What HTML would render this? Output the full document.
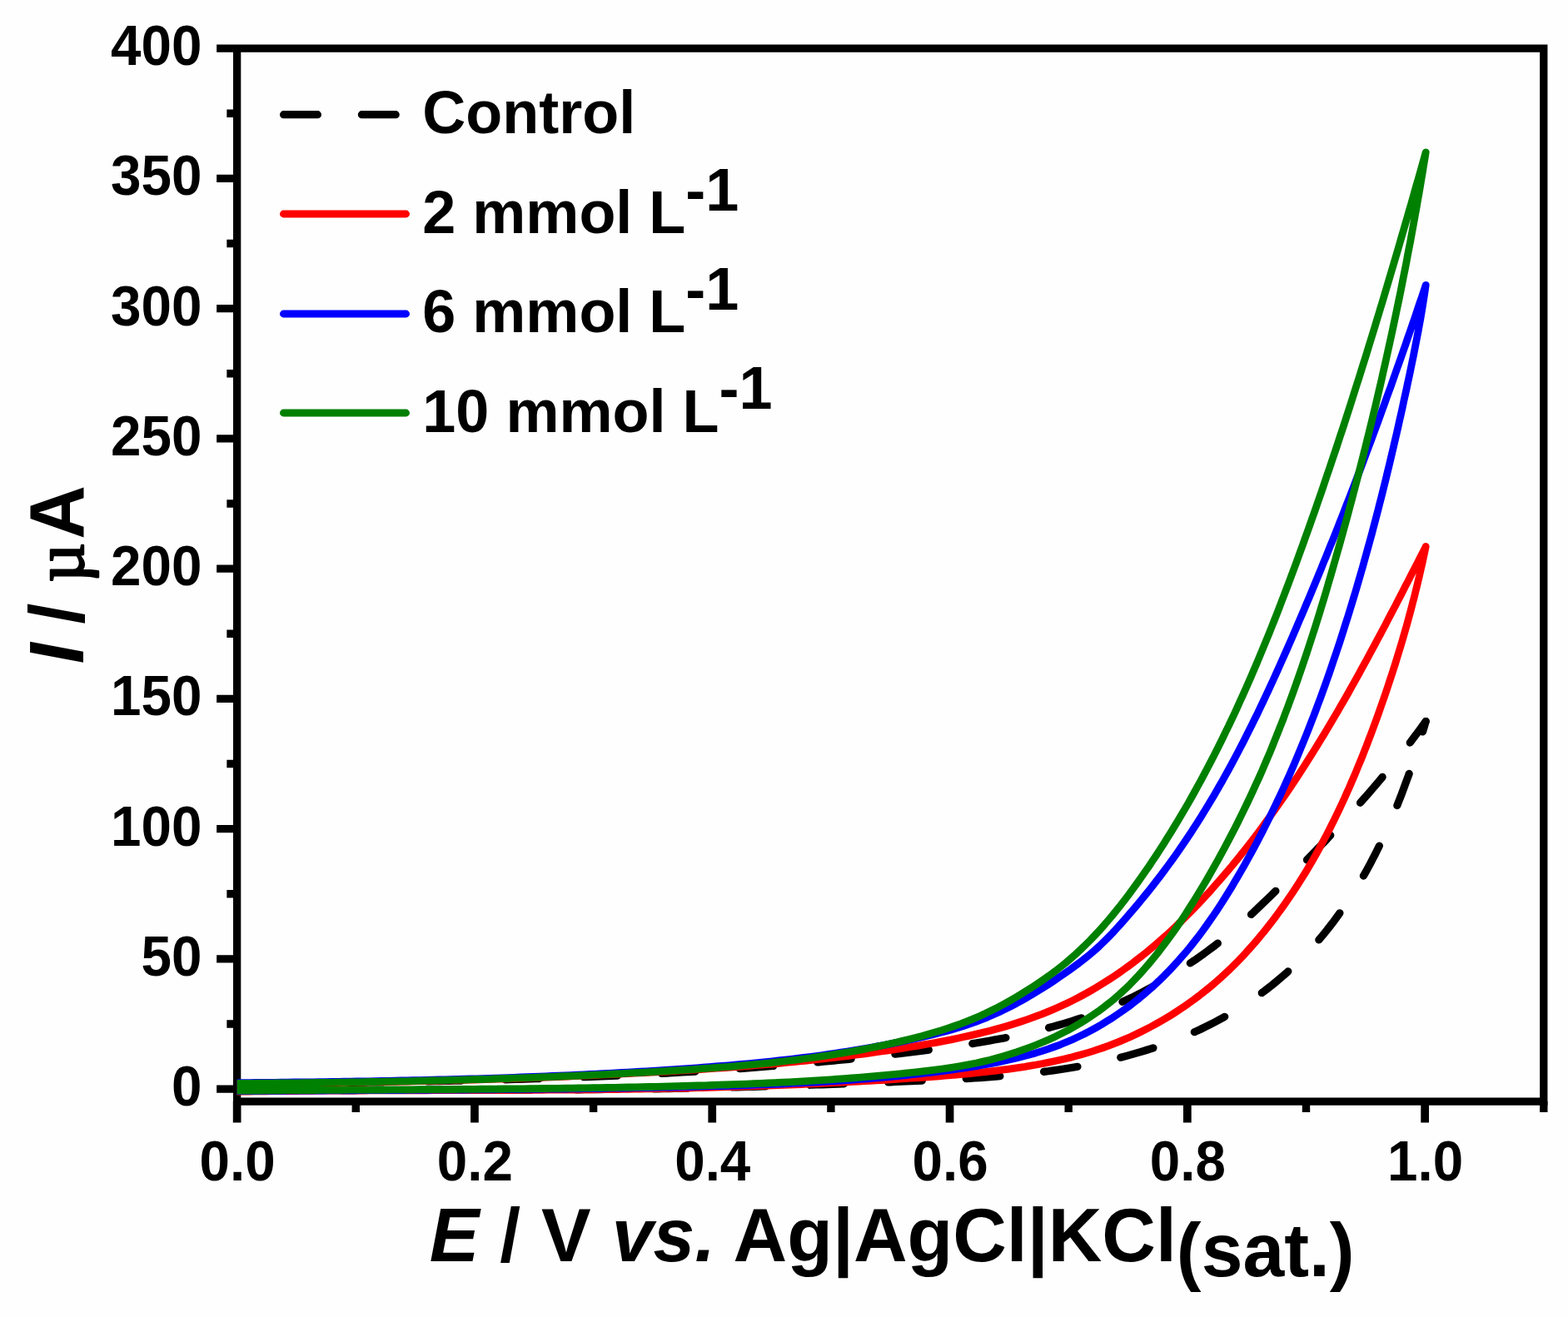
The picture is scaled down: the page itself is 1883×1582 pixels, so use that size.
<!DOCTYPE html>
<html lang="en"><head><meta charset="utf-8">
<title>Cyclic voltammograms</title>
<style>
html,body{margin:0;padding:0;background:#fefefe;}
body{width:1883px;height:1582px;overflow:hidden;}
svg{display:block;filter:blur(0.65px);}
text{font-family:"Liberation Sans",sans-serif;font-weight:bold;fill:#000;white-space:pre;}
.tk{font-size:65.6px;}
.lg{font-size:72.0px;}
.ti{font-size:89.5px;}
.it{font-style:italic;}
.mu{font-family:"Liberation Serif","DejaVu Serif",serif;font-weight:normal;stroke:#000;stroke-width:2.4px;stroke-linejoin:round;}
.ax{stroke:#000;stroke-width:9.3;fill:none;}
.cv{fill:none;stroke-linejoin:round;stroke-linecap:round;}
</style></head><body>
<svg width="1883" height="1582" viewBox="0 0 1883 1582" role="img" aria-label="Cyclic voltammograms">
<rect x="0" y="0" width="1883" height="1582" fill="#fefefe"/>
<path class="ax" d="M284.65,58.10 H1853.80 V1323.10 H284.65 Z M260.15,1308.10 H284.65 M260.15,1151.85 H284.65 M260.15,995.60 H284.65 M260.15,839.35 H284.65 M260.15,683.10 H284.65 M260.15,526.85 H284.65 M260.15,370.60 H284.65 M260.15,214.35 H284.65 M260.15,58.10 H284.65"/>
<path class="ax" style="stroke-width:9.5" d="M272.35,1229.97 H284.65 M272.35,1073.72 H284.65 M272.35,917.47 H284.65 M272.35,761.22 H284.65 M272.35,604.97 H284.65 M272.35,448.72 H284.65 M272.35,292.47 H284.65 M272.35,136.22 H284.65"/>
<path class="ax" style="stroke-width:9.7" d="M284.65,1323.10 V1348.50 M569.95,1323.10 V1348.50 M855.25,1323.10 V1348.50 M1140.55,1323.10 V1348.50 M1425.85,1323.10 V1348.50 M1711.15,1323.10 V1348.50"/>
<path class="ax" style="stroke-width:9.4" d="M427.30,1323.10 V1336.10 M712.60,1323.10 V1336.10 M997.90,1323.10 V1336.10 M1283.20,1323.10 V1336.10 M1568.50,1323.10 V1336.10 M1853.80,1323.10 V1336.10"/>
<clipPath id="pa"><rect x="284.65" y="58.1" width="1569.15" height="1265.0"/></clipPath>
<g class="cv" clip-path="url(#pa)">
<path d="M284.6,1302.0 L290.7,1301.9 L296.8,1301.9 L302.9,1301.8 L309.0,1301.7 L315.0,1301.6 L321.1,1301.6 L327.2,1301.5 L333.3,1301.4 L339.3,1301.4 L345.4,1301.3 L351.5,1301.2 L357.6,1301.2 L363.6,1301.1 L369.7,1301.0 L375.8,1300.9 L381.9,1300.9 L387.9,1300.8 L394.0,1300.7 L400.1,1300.6 L406.2,1300.5 L412.2,1300.5 L418.3,1300.4 L424.4,1300.3 L430.5,1300.2 L436.6,1300.1 L442.6,1300.0 L448.7,1300.0 L454.8,1299.9 L460.9,1299.8 L466.9,1299.7 L473.0,1299.6 L479.1,1299.5 L485.2,1299.4 L491.2,1299.3 L497.3,1299.2 L503.4,1299.1 L509.5,1299.0 L515.5,1298.8 L521.6,1298.7 L527.7,1298.6 L533.8,1298.5 L539.9,1298.4 L545.9,1298.2 L552.0,1298.1 L558.1,1298.0 L564.2,1297.8 L570.2,1297.7 L576.3,1297.5 L582.4,1297.4 L588.5,1297.2 L594.5,1297.1 L600.6,1296.9 L606.7,1296.8 L612.7,1296.6 L618.8,1296.4 L624.9,1296.3 L631.0,1296.1 L637.0,1295.9 L643.1,1295.7 L649.2,1295.5 L655.3,1295.3 L661.3,1295.1 L667.4,1294.9 L673.5,1294.7 L679.6,1294.5 L685.6,1294.3 L691.7,1294.0 L697.8,1293.8 L703.8,1293.6 L709.9,1293.3 L716.0,1293.1 L722.1,1292.8 L728.1,1292.6 L734.2,1292.3 L740.3,1292.1 L746.3,1291.8 L752.4,1291.5 L758.5,1291.2 L764.5,1290.9 L770.6,1290.6 L776.7,1290.3 L782.7,1290.0 L788.8,1289.7 L794.9,1289.4 L800.9,1289.1 L807.0,1288.7 L813.1,1288.4 L819.1,1288.0 L825.2,1287.7 L831.3,1287.3 L837.3,1286.9 L843.4,1286.6 L849.5,1286.2 L855.5,1285.8 L861.6,1285.4 L867.6,1285.0 L873.7,1284.6 L879.8,1284.2 L885.8,1283.7 L891.9,1283.3 L898.0,1282.9 L904.0,1282.4 L910.1,1282.0 L916.1,1281.5 L922.2,1281.0 L928.2,1280.5 L934.3,1280.0 L940.4,1279.5 L946.4,1279.0 L952.5,1278.5 L958.5,1278.0 L964.6,1277.5 L970.6,1276.9 L976.7,1276.4 L982.8,1275.8 L988.8,1275.2 L994.9,1274.7 L1000.9,1274.1 L1007.0,1273.5 L1013.0,1272.9 L1019.1,1272.3 L1025.1,1271.6 L1031.2,1271.0 L1037.2,1270.4 L1043.3,1269.7 L1049.3,1269.0 L1055.4,1268.4 L1061.4,1267.7 L1067.5,1267.0 L1073.5,1266.3 L1079.5,1265.6 L1085.6,1264.9 L1091.6,1264.1 L1097.7,1263.4 L1103.7,1262.6 L1109.8,1261.9 L1115.8,1261.1 L1121.8,1260.3 L1127.9,1259.5 L1133.9,1258.7 L1139.9,1257.8 L1146.0,1256.9 L1152.0,1256.1 L1158.0,1255.1 L1164.0,1254.2 L1170.0,1253.3 L1176.0,1252.3 L1182.0,1251.2 L1188.0,1250.2 L1193.9,1249.1 L1199.9,1248.0 L1205.9,1246.9 L1211.8,1245.7 L1217.7,1244.5 L1223.7,1243.2 L1229.6,1241.9 L1235.5,1240.5 L1241.3,1239.2 L1247.2,1237.7 L1253.1,1236.2 L1258.9,1234.7 L1264.7,1233.1 L1270.6,1231.5 L1276.4,1229.8 L1282.1,1228.1 L1287.9,1226.3 L1293.6,1224.4 L1299.4,1222.5 L1305.1,1220.6 L1310.8,1218.5 L1316.4,1216.4 L1322.1,1214.3 L1327.7,1212.1 L1333.3,1209.8 L1338.9,1207.4 L1344.4,1205.0 L1350.0,1202.5 L1355.5,1199.9 L1361.0,1197.3 L1366.4,1194.6 L1371.9,1191.8 L1377.3,1188.9 L1382.7,1185.9 L1388.0,1182.9 L1393.4,1179.8 L1398.7,1176.6 L1403.9,1173.4 L1409.1,1170.2 L1414.3,1166.9 L1419.5,1163.5 L1424.6,1160.2 L1429.6,1156.8 L1434.7,1153.4 L1439.6,1149.9 L1444.6,1146.4 L1449.4,1142.9 L1454.3,1139.3 L1459.1,1135.7 L1463.8,1132.0 L1468.5,1128.2 L1473.2,1124.4 L1477.8,1120.5 L1482.4,1116.6 L1487.0,1112.6 L1491.5,1108.6 L1496.0,1104.5 L1500.4,1100.4 L1504.9,1096.3 L1509.3,1092.1 L1513.7,1087.9 L1518.1,1083.7 L1522.5,1079.5 L1526.9,1075.2 L1531.2,1071.0 L1535.5,1066.7 L1539.9,1062.5 L1544.2,1058.2 L1548.5,1053.9 L1552.8,1049.6 L1557.1,1045.3 L1561.4,1041.0 L1565.7,1036.7 L1569.9,1032.4 L1574.2,1028.0 L1578.4,1023.7 L1582.6,1019.3 L1586.9,1014.9 L1591.1,1010.5 L1595.2,1006.1 L1599.4,1001.7 L1603.6,997.3 L1607.7,992.9 L1611.8,988.4 L1615.9,983.9 L1620.0,979.4 L1624.1,974.9 L1628.1,970.4 L1632.2,965.9 L1636.2,961.3 L1640.2,956.8 L1644.2,952.2 L1648.1,947.6 L1652.1,943.0 L1656.0,938.4 L1659.9,933.7 L1663.8,929.0 L1667.7,924.4 L1671.5,919.6 L1675.3,914.9 L1679.1,910.2 L1682.9,905.4 L1686.6,900.6 L1690.4,895.8 L1694.1,891.0 L1697.7,886.1 L1701.4,881.3 L1705.0,876.4 L1708.6,871.4 L1712.2,866.5" stroke="#000" stroke-width="9.2" stroke-dasharray="40.8 53.0" stroke-dashoffset="52.75"/>
<path d="M1712.2,866.5 L1710.5,872.5 L1708.7,878.4 L1706.9,884.4 L1705.0,890.4 L1703.2,896.4 L1701.3,902.3 L1699.3,908.3 L1697.3,914.3 L1695.3,920.3 L1693.3,926.3 L1691.2,932.3 L1689.0,938.2 L1686.8,944.2 L1684.6,950.1 L1682.4,956.1 L1680.0,962.0 L1677.7,967.9 L1675.3,973.8 L1672.8,979.7 L1670.3,985.6 L1667.8,991.4 L1665.2,997.3 L1662.6,1003.1 L1659.9,1008.8 L1657.1,1014.6 L1654.3,1020.3 L1651.5,1026.0 L1648.5,1031.7 L1645.6,1037.3 L1642.6,1042.9 L1639.5,1048.5 L1636.3,1054.0 L1633.1,1059.5 L1629.9,1064.9 L1626.6,1070.3 L1623.2,1075.7 L1619.7,1081.0 L1616.2,1086.3 L1612.6,1091.5 L1609.0,1096.7 L1605.3,1101.8 L1601.5,1106.9 L1597.7,1111.9 L1593.8,1116.9 L1589.8,1121.8 L1585.8,1126.6 L1581.7,1131.4 L1577.5,1136.1 L1573.3,1140.8 L1568.9,1145.4 L1564.6,1149.9 L1560.1,1154.4 L1555.6,1158.8 L1551.0,1163.1 L1546.4,1167.3 L1541.7,1171.5 L1536.9,1175.6 L1532.1,1179.6 L1527.2,1183.6 L1522.2,1187.5 L1517.2,1191.3 L1512.1,1195.0 L1507.0,1198.6 L1501.8,1202.2 L1496.6,1205.7 L1491.3,1209.1 L1485.9,1212.5 L1480.5,1215.7 L1475.1,1218.9 L1469.6,1222.0 L1464.0,1225.1 L1458.5,1228.0 L1452.8,1230.9 L1447.2,1233.7 L1441.5,1236.5 L1435.7,1239.1 L1429.9,1241.7 L1424.1,1244.2 L1418.3,1246.6 L1412.4,1249.0 L1406.5,1251.2 L1400.5,1253.4 L1394.6,1255.6 L1388.6,1257.6 L1382.5,1259.6 L1376.5,1261.5 L1370.4,1263.4 L1364.3,1265.2 L1358.2,1266.9 L1352.1,1268.6 L1345.9,1270.2 L1339.8,1271.7 L1333.6,1273.2 L1327.4,1274.6 L1321.1,1276.0 L1314.9,1277.3 L1308.7,1278.5 L1302.4,1279.7 L1296.2,1280.9 L1289.9,1282.0 L1283.7,1283.0 L1277.4,1284.0 L1271.1,1285.0 L1264.8,1285.9 L1258.6,1286.7 L1252.3,1287.5 L1246.0,1288.3 L1239.7,1289.0 L1233.4,1289.7 L1227.1,1290.4 L1220.8,1291.0 L1214.5,1291.6 L1208.2,1292.2 L1201.9,1292.7 L1195.6,1293.2 L1189.3,1293.7 L1183.0,1294.1 L1176.7,1294.6 L1170.4,1295.0 L1164.1,1295.4 L1157.8,1295.7 L1151.4,1296.1 L1145.1,1296.4 L1138.8,1296.7 L1132.5,1297.0 L1126.2,1297.3 L1119.9,1297.6 L1113.5,1297.9 L1107.2,1298.2 L1100.9,1298.4 L1094.6,1298.7 L1088.3,1299.0 L1081.9,1299.2 L1075.6,1299.5 L1069.3,1299.8 L1063.0,1300.0 L1056.6,1300.3 L1050.3,1300.5 L1044.0,1300.8 L1037.7,1301.0 L1031.4,1301.2 L1025.0,1301.5 L1018.7,1301.7 L1012.4,1301.9 L1006.1,1302.2 L999.7,1302.4 L993.4,1302.6 L987.1,1302.8 L980.8,1303.0 L974.4,1303.2 L968.1,1303.5 L961.8,1303.7 L955.5,1303.9 L949.1,1304.1 L942.8,1304.3 L936.5,1304.4 L930.2,1304.6 L923.8,1304.8 L917.5,1305.0 L911.2,1305.2 L904.9,1305.3 L898.5,1305.5 L892.2,1305.7 L885.9,1305.8 L879.5,1306.0 L873.2,1306.1 L866.9,1306.3 L860.6,1306.4 L854.2,1306.6 L847.9,1306.7 L841.6,1306.9 L835.3,1307.0 L828.9,1307.1 L822.6,1307.2 L816.3,1307.3 L809.9,1307.5 L803.6,1307.6 L797.3,1307.7 L791.0,1307.8 L784.6,1307.9 L778.3,1307.9 L772.0,1308.0 L765.6,1308.1 L759.3,1308.2 L753.0,1308.3 L746.7,1308.3 L740.3,1308.4 L734.0,1308.5 L727.7,1308.5 L721.3,1308.6 L715.0,1308.6 L708.7,1308.7 L702.4,1308.7 L696.0,1308.8 L689.7,1308.8 L683.4,1308.9 L677.0,1308.9 L670.7,1308.9 L664.4,1309.0 L658.1,1309.0 L651.7,1309.0 L645.4,1309.0 L639.1,1309.1 L632.7,1309.1 L626.4,1309.1 L620.1,1309.1 L613.8,1309.2 L607.4,1309.2 L601.1,1309.2 L594.8,1309.2 L588.4,1309.2 L582.1,1309.2 L575.8,1309.2 L569.4,1309.3 L563.1,1309.3 L556.8,1309.3 L550.5,1309.3 L544.1,1309.3 L537.8,1309.3 L531.5,1309.3 L525.1,1309.3 L518.8,1309.3 L512.5,1309.3 L506.2,1309.4 L499.8,1309.4 L493.5,1309.4 L487.2,1309.4 L480.8,1309.4 L474.5,1309.4 L468.2,1309.4 L461.9,1309.4 L455.5,1309.5 L449.2,1309.5 L442.9,1309.5 L436.5,1309.5 L430.2,1309.5 L423.9,1309.6 L417.5,1309.6 L411.2,1309.6 L404.9,1309.7 L398.6,1309.7 L392.2,1309.7 L385.9,1309.8 L379.6,1309.8 L373.2,1309.9 L366.9,1309.9 L360.6,1310.0 L354.3,1310.0 L347.9,1310.1 L341.6,1310.1 L335.3,1310.2 L328.9,1310.2 L322.6,1310.3 L316.3,1310.4 L310.0,1310.5 L303.6,1310.5 L297.3,1310.6 L291.0,1310.7 L284.6,1310.8" stroke="#000" stroke-width="9.2" stroke-dasharray="40.8 53.0" stroke-dashoffset="27.8"/>
<path d="M284.6,1301.6 L291.3,1301.6 L297.9,1301.5 L304.5,1301.5 L311.1,1301.4 L317.8,1301.4 L324.4,1301.3 L331.0,1301.3 L337.6,1301.2 L344.3,1301.2 L350.9,1301.1 L357.5,1301.0 L364.1,1301.0 L370.8,1300.9 L377.4,1300.8 L384.0,1300.8 L390.6,1300.7 L397.3,1300.6 L403.9,1300.5 L410.5,1300.4 L417.1,1300.3 L423.7,1300.2 L430.4,1300.1 L437.0,1300.0 L443.6,1299.9 L450.2,1299.8 L456.9,1299.7 L463.5,1299.5 L470.1,1299.4 L476.7,1299.3 L483.4,1299.1 L490.0,1299.0 L496.6,1298.9 L503.2,1298.7 L509.9,1298.6 L516.5,1298.4 L523.1,1298.3 L529.7,1298.1 L536.3,1297.9 L543.0,1297.8 L549.6,1297.6 L556.2,1297.4 L562.8,1297.2 L569.5,1297.0 L576.1,1296.8 L582.7,1296.6 L589.3,1296.4 L595.9,1296.2 L602.6,1296.0 L609.2,1295.8 L615.8,1295.5 L622.4,1295.3 L629.0,1295.1 L635.7,1294.8 L642.3,1294.6 L648.9,1294.3 L655.5,1294.1 L662.1,1293.8 L668.8,1293.6 L675.4,1293.3 L682.0,1293.0 L688.6,1292.7 L695.2,1292.4 L701.8,1292.1 L708.5,1291.8 L715.1,1291.5 L721.7,1291.2 L728.3,1290.9 L734.9,1290.6 L741.5,1290.3 L748.2,1289.9 L754.8,1289.6 L761.4,1289.2 L768.0,1288.9 L774.6,1288.5 L781.2,1288.2 L787.8,1287.8 L794.5,1287.4 L801.1,1287.0 L807.7,1286.6 L814.3,1286.2 L820.9,1285.8 L827.5,1285.4 L834.1,1285.0 L840.7,1284.6 L847.3,1284.1 L854.0,1283.7 L860.6,1283.2 L867.2,1282.8 L873.8,1282.3 L880.4,1281.8 L887.0,1281.3 L893.6,1280.8 L900.2,1280.3 L906.8,1279.7 L913.4,1279.2 L920.0,1278.6 L926.6,1278.0 L933.2,1277.5 L939.8,1276.9 L946.4,1276.2 L953.0,1275.6 L959.6,1274.9 L966.2,1274.3 L972.8,1273.6 L979.3,1272.9 L985.9,1272.2 L992.5,1271.4 L999.1,1270.7 L1005.7,1269.9 L1012.3,1269.1 L1018.8,1268.3 L1025.4,1267.5 L1032.0,1266.6 L1038.6,1265.8 L1045.1,1264.9 L1051.7,1264.0 L1058.3,1263.0 L1064.9,1262.1 L1071.4,1261.1 L1078.0,1260.1 L1084.5,1259.1 L1091.1,1258.0 L1097.7,1256.9 L1104.2,1255.8 L1110.8,1254.7 L1117.3,1253.5 L1123.9,1252.4 L1130.4,1251.1 L1136.9,1249.9 L1143.4,1248.6 L1149.9,1247.2 L1156.4,1245.8 L1162.9,1244.4 L1169.4,1242.9 L1175.8,1241.4 L1182.2,1239.8 L1188.6,1238.2 L1195.0,1236.5 L1201.4,1234.7 L1207.7,1232.9 L1214.1,1231.0 L1220.4,1229.0 L1226.6,1227.0 L1232.9,1224.9 L1239.1,1222.7 L1245.2,1220.4 L1251.4,1218.1 L1257.5,1215.6 L1263.6,1213.1 L1269.6,1210.5 L1275.6,1207.8 L1281.6,1205.0 L1287.5,1202.1 L1293.4,1199.1 L1299.2,1196.0 L1305.0,1192.9 L1310.7,1189.6 L1316.4,1186.3 L1322.1,1182.8 L1327.7,1179.3 L1333.3,1175.7 L1338.8,1172.1 L1344.3,1168.3 L1349.7,1164.5 L1355.1,1160.6 L1360.4,1156.7 L1365.7,1152.6 L1371.0,1148.5 L1376.2,1144.4 L1381.3,1140.2 L1386.4,1135.9 L1391.4,1131.5 L1396.4,1127.1 L1401.4,1122.7 L1406.3,1118.2 L1411.2,1113.6 L1416.0,1109.0 L1420.7,1104.4 L1425.5,1099.7 L1430.2,1095.0 L1434.8,1090.2 L1439.4,1085.4 L1444.0,1080.5 L1448.5,1075.6 L1453.0,1070.7 L1457.4,1065.7 L1461.8,1060.7 L1466.2,1055.7 L1470.5,1050.6 L1474.8,1045.6 L1479.1,1040.5 L1483.3,1035.4 L1487.5,1030.2 L1491.6,1025.0 L1495.7,1019.9 L1499.8,1014.6 L1503.9,1009.4 L1507.9,1004.1 L1511.9,998.9 L1515.8,993.6 L1519.7,988.2 L1523.6,982.9 L1527.5,977.5 L1531.3,972.2 L1535.1,966.8 L1538.9,961.3 L1542.6,955.9 L1546.4,950.4 L1550.1,945.0 L1553.7,939.5 L1557.4,934.0 L1561.0,928.4 L1564.6,922.9 L1568.1,917.3 L1571.7,911.7 L1575.2,906.1 L1578.7,900.5 L1582.2,894.9 L1585.6,889.3 L1589.1,883.6 L1592.5,878.0 L1595.9,872.3 L1599.3,866.6 L1602.6,860.9 L1606.0,855.2 L1609.3,849.4 L1612.6,843.7 L1615.9,838.0 L1619.2,832.2 L1622.4,826.4 L1625.7,820.6 L1628.9,814.9 L1632.1,809.1 L1635.3,803.2 L1638.5,797.4 L1641.7,791.6 L1644.8,785.8 L1648.0,779.9 L1651.1,774.1 L1654.2,768.2 L1657.4,762.4 L1660.5,756.5 L1663.6,750.7 L1666.6,744.8 L1669.7,738.9 L1672.8,733.0 L1675.9,727.2 L1678.9,721.3 L1682.0,715.4 L1685.0,709.5 L1688.0,703.6 L1691.1,697.7 L1694.1,691.8 L1697.1,685.9 L1700.2,680.0 L1703.2,674.2 L1706.2,668.3 L1709.2,662.4 L1712.2,656.5 L1710.8,663.3 L1709.3,670.2 L1707.9,677.0 L1706.3,683.8 L1704.8,690.6 L1703.2,697.3 L1701.6,704.0 L1699.9,710.8 L1698.3,717.5 L1696.5,724.1 L1694.8,730.8 L1693.0,737.5 L1691.2,744.1 L1689.4,750.8 L1687.5,757.4 L1685.6,764.0 L1683.7,770.6 L1681.7,777.2 L1679.7,783.7 L1677.7,790.3 L1675.7,796.9 L1673.6,803.4 L1671.5,810.0 L1669.3,816.5 L1667.2,823.0 L1665.0,829.6 L1662.8,836.1 L1660.5,842.6 L1658.2,849.1 L1655.9,855.7 L1653.6,862.2 L1651.2,868.7 L1648.8,875.2 L1646.4,881.7 L1643.9,888.2 L1641.5,894.6 L1638.9,901.1 L1636.4,907.6 L1633.8,914.0 L1631.1,920.4 L1628.5,926.9 L1625.8,933.3 L1623.0,939.6 L1620.3,946.0 L1617.4,952.4 L1614.6,958.7 L1611.7,965.0 L1608.7,971.3 L1605.7,977.6 L1602.7,983.8 L1599.6,990.0 L1596.5,996.2 L1593.3,1002.4 L1590.1,1008.5 L1586.8,1014.6 L1583.5,1020.7 L1580.1,1026.8 L1576.7,1032.8 L1573.2,1038.8 L1569.7,1044.7 L1566.1,1050.6 L1562.4,1056.5 L1558.7,1062.3 L1555.0,1068.1 L1551.2,1073.9 L1547.3,1079.6 L1543.4,1085.3 L1539.4,1090.9 L1535.3,1096.5 L1531.2,1102.1 L1527.0,1107.6 L1522.8,1113.0 L1518.5,1118.4 L1514.1,1123.8 L1509.7,1129.1 L1505.2,1134.3 L1500.6,1139.5 L1496.0,1144.7 L1491.3,1149.7 L1486.5,1154.7 L1481.6,1159.6 L1476.7,1164.5 L1471.6,1169.3 L1466.5,1173.9 L1461.4,1178.5 L1456.1,1183.1 L1450.8,1187.5 L1445.4,1191.8 L1439.9,1196.1 L1434.4,1200.2 L1428.8,1204.3 L1423.1,1208.3 L1417.4,1212.2 L1411.6,1216.0 L1405.8,1219.7 L1399.9,1223.3 L1393.9,1226.8 L1387.9,1230.2 L1381.8,1233.5 L1375.7,1236.7 L1369.5,1239.8 L1363.3,1242.8 L1357.0,1245.7 L1350.7,1248.4 L1344.3,1251.1 L1337.9,1253.7 L1331.4,1256.2 L1324.9,1258.5 L1318.4,1260.7 L1311.8,1262.9 L1305.2,1264.9 L1298.6,1266.8 L1291.9,1268.6 L1285.2,1270.4 L1278.5,1272.0 L1271.7,1273.5 L1264.9,1275.0 L1258.2,1276.4 L1251.4,1277.7 L1244.5,1279.0 L1237.7,1280.1 L1230.9,1281.3 L1224.0,1282.3 L1217.1,1283.3 L1210.3,1284.3 L1203.4,1285.2 L1196.6,1286.1 L1189.7,1286.9 L1182.8,1287.7 L1175.9,1288.4 L1169.1,1289.1 L1162.2,1289.8 L1155.3,1290.4 L1148.4,1291.1 L1141.5,1291.6 L1134.7,1292.2 L1127.8,1292.8 L1120.9,1293.3 L1114.0,1293.8 L1107.1,1294.3 L1100.2,1294.8 L1093.3,1295.2 L1086.4,1295.7 L1079.5,1296.2 L1072.6,1296.6 L1065.7,1297.0 L1058.8,1297.5 L1051.9,1297.9 L1045.0,1298.3 L1038.1,1298.7 L1031.2,1299.1 L1024.3,1299.4 L1017.4,1299.8 L1010.5,1300.2 L1003.6,1300.5 L996.7,1300.9 L989.8,1301.2 L982.9,1301.5 L976.0,1301.9 L969.1,1302.2 L962.2,1302.5 L955.3,1302.8 L948.4,1303.1 L941.5,1303.3 L934.6,1303.6 L927.6,1303.9 L920.7,1304.1 L913.8,1304.4 L906.9,1304.6 L900.0,1304.9 L893.1,1305.1 L886.2,1305.3 L879.3,1305.5 L872.4,1305.7 L865.4,1305.9 L858.5,1306.1 L851.6,1306.3 L844.7,1306.5 L837.8,1306.7 L830.9,1306.8 L824.0,1307.0 L817.0,1307.1 L810.1,1307.3 L803.2,1307.4 L796.3,1307.6 L789.4,1307.7 L782.5,1307.8 L775.6,1307.9 L768.7,1308.1 L761.7,1308.2 L754.8,1308.3 L747.9,1308.4 L741.0,1308.5 L734.1,1308.5 L727.2,1308.6 L720.3,1308.7 L713.3,1308.8 L706.4,1308.9 L699.5,1308.9 L692.6,1309.0 L685.7,1309.0 L678.8,1309.1 L671.9,1309.1 L664.9,1309.2 L658.0,1309.2 L651.1,1309.3 L644.2,1309.3 L637.3,1309.4 L630.4,1309.4 L623.5,1309.4 L616.5,1309.5 L609.6,1309.5 L602.7,1309.5 L595.8,1309.5 L588.9,1309.6 L582.0,1309.6 L575.1,1309.6 L568.1,1309.6 L561.2,1309.6 L554.3,1309.7 L547.4,1309.7 L540.5,1309.7 L533.6,1309.7 L526.7,1309.7 L519.7,1309.7 L512.8,1309.8 L505.9,1309.8 L499.0,1309.8 L492.1,1309.8 L485.2,1309.8 L478.3,1309.8 L471.3,1309.9 L464.4,1309.9 L457.5,1309.9 L450.6,1309.9 L443.7,1309.9 L436.8,1310.0 L429.8,1310.0 L422.9,1310.0 L416.0,1310.0 L409.1,1310.1 L402.2,1310.1 L395.3,1310.1 L388.4,1310.2 L381.4,1310.2 L374.5,1310.3 L367.6,1310.3 L360.7,1310.4 L353.8,1310.4 L346.9,1310.5 L340.0,1310.6 L333.0,1310.6 L326.1,1310.7 L319.2,1310.8 L312.3,1310.8 L305.4,1310.9 L298.5,1311.0 L291.6,1311.1 L284.6,1311.2" stroke="#ff0000" stroke-width="8.8"/>
<path d="M284.6,1300.7 L292.2,1300.6 L299.8,1300.6 L307.4,1300.5 L314.9,1300.4 L322.5,1300.3 L330.1,1300.3 L337.7,1300.2 L345.2,1300.1 L352.8,1300.0 L360.4,1299.9 L367.9,1299.9 L375.5,1299.8 L383.1,1299.7 L390.6,1299.6 L398.2,1299.5 L405.8,1299.4 L413.4,1299.2 L420.9,1299.1 L428.5,1299.0 L436.1,1298.9 L443.6,1298.8 L451.2,1298.6 L458.8,1298.5 L466.3,1298.3 L473.9,1298.2 L481.5,1298.0 L489.0,1297.9 L496.6,1297.7 L504.2,1297.6 L511.7,1297.4 L519.3,1297.2 L526.9,1297.0 L534.4,1296.8 L542.0,1296.6 L549.6,1296.4 L557.1,1296.2 L564.7,1296.0 L572.2,1295.8 L579.8,1295.6 L587.4,1295.3 L594.9,1295.1 L602.5,1294.8 L610.1,1294.6 L617.6,1294.3 L625.2,1294.0 L632.8,1293.7 L640.3,1293.5 L647.9,1293.2 L655.4,1292.9 L663.0,1292.5 L670.6,1292.2 L678.1,1291.9 L685.7,1291.6 L693.3,1291.2 L700.8,1290.9 L708.4,1290.5 L715.9,1290.1 L723.5,1289.7 L731.1,1289.3 L738.6,1288.9 L746.2,1288.5 L753.8,1288.1 L761.3,1287.7 L768.9,1287.2 L776.4,1286.8 L784.0,1286.3 L791.6,1285.8 L799.1,1285.4 L806.7,1284.9 L814.2,1284.4 L821.8,1283.8 L829.4,1283.3 L836.9,1282.8 L844.5,1282.2 L852.0,1281.6 L859.6,1281.0 L867.1,1280.4 L874.7,1279.8 L882.2,1279.2 L889.8,1278.5 L897.3,1277.8 L904.9,1277.1 L912.4,1276.3 L919.9,1275.6 L927.5,1274.8 L935.0,1274.0 L942.5,1273.1 L950.0,1272.3 L957.5,1271.4 L965.1,1270.4 L972.6,1269.5 L980.1,1268.5 L987.6,1267.5 L995.0,1266.4 L1002.5,1265.3 L1010.0,1264.2 L1017.5,1263.1 L1024.9,1261.9 L1032.4,1260.6 L1039.9,1259.4 L1047.3,1258.0 L1054.7,1256.7 L1062.2,1255.3 L1069.6,1253.9 L1077.0,1252.4 L1084.4,1250.9 L1091.8,1249.3 L1099.2,1247.7 L1106.6,1246.0 L1114.0,1244.3 L1121.3,1242.5 L1128.7,1240.6 L1136.0,1238.7 L1143.2,1236.7 L1150.5,1234.5 L1157.7,1232.2 L1164.9,1229.8 L1172.0,1227.3 L1179.0,1224.6 L1186.1,1221.8 L1193.0,1218.8 L1199.9,1215.7 L1206.8,1212.4 L1213.5,1209.0 L1220.3,1205.5 L1226.9,1201.8 L1233.6,1198.1 L1240.1,1194.2 L1246.6,1190.3 L1253.1,1186.3 L1259.5,1182.2 L1265.8,1178.0 L1272.1,1173.7 L1278.4,1169.4 L1284.5,1165.1 L1290.6,1160.6 L1296.7,1156.1 L1302.6,1151.5 L1308.4,1146.8 L1314.2,1141.9 L1319.8,1136.9 L1325.2,1131.7 L1330.5,1126.4 L1335.8,1121.0 L1340.9,1115.4 L1346.0,1109.8 L1351.0,1104.1 L1355.9,1098.4 L1360.9,1092.6 L1365.8,1086.8 L1370.6,1081.0 L1375.4,1075.1 L1380.2,1069.2 L1384.9,1063.2 L1389.5,1057.2 L1394.2,1051.2 L1398.7,1045.1 L1403.2,1039.0 L1407.7,1032.9 L1412.1,1026.7 L1416.4,1020.5 L1420.7,1014.3 L1424.9,1008.0 L1429.1,1001.8 L1433.2,995.4 L1437.3,989.1 L1441.4,982.7 L1445.3,976.3 L1449.3,969.8 L1453.2,963.3 L1457.0,956.9 L1460.9,950.3 L1464.6,943.8 L1468.4,937.2 L1472.0,930.6 L1475.7,924.0 L1479.3,917.3 L1482.9,910.7 L1486.4,904.0 L1489.9,897.3 L1493.4,890.6 L1496.8,883.8 L1500.2,877.1 L1503.6,870.3 L1506.9,863.5 L1510.3,856.7 L1513.5,849.9 L1516.8,843.0 L1520.0,836.2 L1523.2,829.3 L1526.4,822.4 L1529.6,815.5 L1532.7,808.6 L1535.8,801.7 L1538.9,794.8 L1542.0,787.9 L1545.1,780.9 L1548.1,774.0 L1551.2,767.0 L1554.2,760.1 L1557.2,753.1 L1560.1,746.1 L1563.1,739.2 L1566.1,732.2 L1569.0,725.2 L1572.0,718.2 L1574.9,711.2 L1577.8,704.2 L1580.7,697.2 L1583.6,690.2 L1586.5,683.2 L1589.3,676.2 L1592.2,669.2 L1595.0,662.2 L1597.8,655.2 L1600.7,648.2 L1603.5,641.1 L1606.3,634.1 L1609.0,627.1 L1611.8,620.0 L1614.6,613.0 L1617.3,605.9 L1620.1,598.9 L1622.8,591.8 L1625.5,584.8 L1628.2,577.7 L1630.9,570.6 L1633.6,563.6 L1636.3,556.5 L1638.9,549.4 L1641.6,542.3 L1644.2,535.2 L1646.9,528.2 L1649.5,521.1 L1652.1,514.0 L1654.7,506.9 L1657.3,499.8 L1659.9,492.6 L1662.5,485.5 L1665.0,478.4 L1667.6,471.3 L1670.2,464.2 L1672.7,457.0 L1675.2,449.9 L1677.7,442.8 L1680.3,435.6 L1682.8,428.5 L1685.3,421.3 L1687.8,414.2 L1690.2,407.0 L1692.7,399.9 L1695.2,392.7 L1697.6,385.6 L1700.1,378.4 L1702.5,371.2 L1704.9,364.0 L1707.4,356.9 L1709.8,349.7 L1712.2,342.5 L1711.1,350.3 L1709.9,358.1 L1708.7,365.9 L1707.4,373.7 L1706.1,381.4 L1704.7,389.2 L1703.3,396.9 L1701.8,404.7 L1700.3,412.4 L1698.8,420.2 L1697.3,427.9 L1695.7,435.6 L1694.1,443.3 L1692.5,451.1 L1690.8,458.8 L1689.2,466.5 L1687.5,474.2 L1685.8,481.9 L1684.2,489.6 L1682.5,497.3 L1680.7,505.0 L1679.0,512.7 L1677.3,520.4 L1675.5,528.0 L1673.7,535.7 L1671.9,543.4 L1670.1,551.1 L1668.3,558.7 L1666.4,566.4 L1664.6,574.1 L1662.7,581.7 L1660.8,589.4 L1658.9,597.0 L1656.9,604.7 L1655.0,612.3 L1653.0,619.9 L1651.0,627.6 L1649.0,635.2 L1647.0,642.8 L1644.9,650.4 L1642.8,658.0 L1640.7,665.6 L1638.6,673.2 L1636.5,680.8 L1634.3,688.4 L1632.1,695.9 L1629.9,703.5 L1627.7,711.1 L1625.4,718.6 L1623.1,726.2 L1620.8,733.7 L1618.5,741.2 L1616.1,748.7 L1613.7,756.3 L1611.3,763.8 L1608.9,771.3 L1606.4,778.8 L1603.9,786.3 L1601.4,793.7 L1598.9,801.2 L1596.3,808.7 L1593.7,816.1 L1591.1,823.5 L1588.4,831.0 L1585.7,838.4 L1582.9,845.8 L1580.2,853.1 L1577.4,860.5 L1574.5,867.9 L1571.7,875.2 L1568.8,882.5 L1565.8,889.9 L1562.8,897.1 L1559.8,904.4 L1556.8,911.7 L1553.7,918.9 L1550.5,926.2 L1547.4,933.4 L1544.1,940.6 L1540.9,947.7 L1537.6,954.9 L1534.2,962.0 L1530.8,969.1 L1527.4,976.2 L1523.9,983.3 L1520.4,990.4 L1516.9,997.4 L1513.2,1004.4 L1509.6,1011.4 L1505.9,1018.3 L1502.1,1025.3 L1498.3,1032.2 L1494.5,1039.1 L1490.6,1045.9 L1486.6,1052.8 L1482.6,1059.6 L1478.6,1066.4 L1474.4,1073.1 L1470.2,1079.8 L1466.0,1086.5 L1461.7,1093.1 L1457.3,1099.6 L1452.8,1106.1 L1448.2,1112.6 L1443.6,1119.0 L1438.9,1125.3 L1434.0,1131.5 L1429.1,1137.7 L1424.1,1143.7 L1418.9,1149.7 L1413.7,1155.6 L1408.3,1161.4 L1402.9,1167.2 L1397.3,1172.8 L1391.7,1178.3 L1385.9,1183.7 L1380.0,1189.0 L1374.1,1194.1 L1368.0,1199.2 L1361.8,1204.1 L1355.6,1208.9 L1349.2,1213.5 L1342.7,1218.0 L1336.2,1222.4 L1329.5,1226.6 L1322.8,1230.7 L1316.0,1234.6 L1309.1,1238.4 L1302.1,1242.0 L1295.0,1245.4 L1287.9,1248.7 L1280.7,1251.8 L1273.4,1254.8 L1266.0,1257.5 L1258.6,1260.1 L1251.1,1262.6 L1243.6,1264.9 L1236.0,1267.0 L1228.3,1269.1 L1220.7,1271.0 L1213.0,1272.8 L1205.2,1274.5 L1197.5,1276.1 L1189.7,1277.6 L1181.9,1279.0 L1174.1,1280.4 L1166.3,1281.7 L1158.5,1282.9 L1150.7,1284.0 L1142.9,1285.1 L1135.1,1286.2 L1127.3,1287.2 L1119.5,1288.1 L1111.7,1289.0 L1103.9,1289.9 L1096.0,1290.7 L1088.2,1291.5 L1080.4,1292.3 L1072.5,1293.1 L1064.7,1293.8 L1056.9,1294.5 L1049.0,1295.1 L1041.2,1295.8 L1033.3,1296.4 L1025.5,1297.0 L1017.6,1297.5 L1009.7,1298.1 L1001.9,1298.6 L994.0,1299.1 L986.2,1299.6 L978.3,1300.0 L970.4,1300.4 L962.6,1300.9 L954.7,1301.2 L946.8,1301.6 L938.9,1302.0 L931.1,1302.3 L923.2,1302.6 L915.3,1302.9 L907.4,1303.2 L899.6,1303.5 L891.7,1303.8 L883.8,1304.0 L875.9,1304.3 L868.0,1304.5 L860.1,1304.7 L852.3,1304.9 L844.4,1305.1 L836.5,1305.3 L828.6,1305.5 L820.7,1305.7 L812.8,1305.8 L804.9,1306.0 L797.1,1306.2 L789.2,1306.3 L781.3,1306.5 L773.4,1306.6 L765.5,1306.7 L757.6,1306.9 L749.7,1307.0 L741.9,1307.1 L734.0,1307.2 L726.1,1307.3 L718.2,1307.5 L710.3,1307.6 L702.4,1307.7 L694.6,1307.8 L686.7,1307.9 L678.8,1308.0 L670.9,1308.0 L663.0,1308.1 L655.1,1308.2 L647.3,1308.3 L639.4,1308.4 L631.5,1308.4 L623.6,1308.5 L615.7,1308.6 L607.9,1308.6 L600.0,1308.7 L592.1,1308.8 L584.2,1308.8 L576.3,1308.9 L568.4,1308.9 L560.6,1309.0 L552.7,1309.1 L544.8,1309.1 L536.9,1309.2 L529.0,1309.2 L521.1,1309.2 L513.3,1309.3 L505.4,1309.3 L497.5,1309.4 L489.6,1309.4 L481.7,1309.5 L473.9,1309.5 L466.0,1309.6 L458.1,1309.6 L450.2,1309.6 L442.3,1309.7 L434.4,1309.7 L426.6,1309.8 L418.7,1309.8 L410.8,1309.9 L402.9,1309.9 L395.0,1309.9 L387.1,1310.0 L379.3,1310.0 L371.4,1310.1 L363.5,1310.1 L355.6,1310.2 L347.7,1310.2 L339.8,1310.3 L332.0,1310.3 L324.1,1310.4 L316.2,1310.4 L308.3,1310.5 L300.4,1310.6 L292.5,1310.6 L284.6,1310.7" stroke="#0000ff" stroke-width="8.8"/>
<path d="M284.6,1301.4 L292.8,1301.3 L300.9,1301.3 L309.0,1301.2 L317.1,1301.2 L325.2,1301.1 L333.3,1301.0 L341.4,1300.9 L349.5,1300.9 L357.6,1300.8 L365.7,1300.7 L373.8,1300.6 L381.9,1300.5 L390.0,1300.4 L398.1,1300.3 L406.2,1300.2 L414.3,1300.1 L422.4,1299.9 L430.5,1299.8 L438.6,1299.7 L446.7,1299.5 L454.8,1299.4 L462.9,1299.2 L471.0,1299.1 L479.1,1298.9 L487.2,1298.8 L495.3,1298.6 L503.4,1298.4 L511.5,1298.2 L519.6,1298.0 L527.6,1297.8 L535.7,1297.6 L543.8,1297.4 L551.9,1297.2 L560.0,1297.0 L568.1,1296.7 L576.2,1296.5 L584.3,1296.3 L592.4,1296.0 L600.5,1295.7 L608.6,1295.5 L616.7,1295.2 L624.8,1294.9 L632.9,1294.6 L641.0,1294.3 L649.0,1294.0 L657.1,1293.7 L665.2,1293.4 L673.3,1293.0 L681.4,1292.7 L689.5,1292.3 L697.6,1292.0 L705.7,1291.6 L713.8,1291.2 L721.9,1290.8 L730.0,1290.4 L738.1,1290.0 L746.2,1289.6 L754.3,1289.2 L762.4,1288.7 L770.5,1288.3 L778.6,1287.8 L786.7,1287.3 L794.7,1286.9 L802.8,1286.4 L810.9,1285.9 L819.0,1285.4 L827.1,1284.8 L835.2,1284.3 L843.3,1283.7 L851.4,1283.1 L859.5,1282.5 L867.6,1281.9 L875.7,1281.3 L883.8,1280.6 L891.8,1279.9 L899.9,1279.1 L908.0,1278.4 L916.0,1277.6 L924.1,1276.8 L932.2,1275.9 L940.2,1275.0 L948.2,1274.0 L956.3,1273.1 L964.3,1272.0 L972.3,1271.0 L980.3,1269.8 L988.4,1268.7 L996.4,1267.5 L1004.3,1266.2 L1012.3,1264.9 L1020.3,1263.5 L1028.2,1262.1 L1036.2,1260.6 L1044.1,1259.0 L1052.1,1257.4 L1060.0,1255.8 L1067.9,1254.0 L1075.8,1252.2 L1083.6,1250.4 L1091.5,1248.4 L1099.4,1246.4 L1107.2,1244.4 L1115.0,1242.2 L1122.8,1239.9 L1130.6,1237.6 L1138.3,1235.1 L1146.0,1232.5 L1153.6,1229.8 L1161.2,1226.9 L1168.7,1223.9 L1176.1,1220.7 L1183.5,1217.3 L1190.8,1213.8 L1198.1,1210.1 L1205.2,1206.3 L1212.3,1202.3 L1219.4,1198.2 L1226.4,1194.1 L1233.3,1189.8 L1240.2,1185.4 L1246.9,1181.0 L1253.6,1176.4 L1260.3,1171.7 L1266.8,1166.9 L1273.2,1161.9 L1279.5,1156.8 L1285.6,1151.6 L1291.7,1146.3 L1297.6,1140.8 L1303.4,1135.2 L1309.1,1129.5 L1314.7,1123.6 L1320.2,1117.7 L1325.6,1111.7 L1330.9,1105.5 L1336.1,1099.3 L1341.2,1093.0 L1346.3,1086.7 L1351.2,1080.3 L1356.1,1073.8 L1361.0,1067.2 L1365.7,1060.6 L1370.4,1054.0 L1375.1,1047.3 L1379.7,1040.7 L1384.2,1033.9 L1388.7,1027.2 L1393.1,1020.4 L1397.5,1013.6 L1401.8,1006.7 L1406.1,999.8 L1410.3,992.9 L1414.5,986.0 L1418.6,979.1 L1422.7,972.1 L1426.8,965.1 L1430.8,958.0 L1434.7,951.0 L1438.6,943.9 L1442.5,936.8 L1446.3,929.7 L1450.1,922.5 L1453.8,915.4 L1457.5,908.2 L1461.2,900.9 L1464.8,893.7 L1468.4,886.5 L1471.9,879.2 L1475.5,871.9 L1478.9,864.6 L1482.4,857.3 L1485.8,849.9 L1489.1,842.5 L1492.5,835.2 L1495.8,827.8 L1499.0,820.4 L1502.3,812.9 L1505.5,805.5 L1508.7,798.0 L1511.8,790.6 L1514.9,783.1 L1518.0,775.6 L1521.1,768.1 L1524.2,760.6 L1527.2,753.0 L1530.2,745.5 L1533.2,737.9 L1536.1,730.4 L1539.0,722.8 L1541.9,715.2 L1544.8,707.6 L1547.7,700.0 L1550.5,692.4 L1553.4,684.8 L1556.2,677.2 L1559.0,669.6 L1561.7,662.0 L1564.5,654.4 L1567.2,646.7 L1570.0,639.1 L1572.7,631.5 L1575.4,623.8 L1578.1,616.2 L1580.8,608.5 L1583.4,600.9 L1586.1,593.2 L1588.7,585.6 L1591.3,577.9 L1593.9,570.2 L1596.5,562.6 L1599.1,554.9 L1601.7,547.2 L1604.3,539.5 L1606.8,531.8 L1609.3,524.1 L1611.9,516.5 L1614.4,508.8 L1616.9,501.1 L1619.4,493.4 L1621.9,485.7 L1624.3,478.0 L1626.8,470.2 L1629.2,462.5 L1631.7,454.8 L1634.1,447.1 L1636.5,439.4 L1639.0,431.6 L1641.4,423.9 L1643.7,416.2 L1646.1,408.5 L1648.5,400.7 L1650.9,393.0 L1653.2,385.2 L1655.6,377.5 L1657.9,369.7 L1660.3,362.0 L1662.6,354.2 L1664.9,346.5 L1667.2,338.7 L1669.5,331.0 L1671.8,323.2 L1674.1,315.4 L1676.4,307.7 L1678.7,299.9 L1681.0,292.1 L1683.2,284.3 L1685.5,276.6 L1687.7,268.8 L1690.0,261.0 L1692.2,253.2 L1694.5,245.4 L1696.7,237.6 L1698.9,229.8 L1701.1,222.0 L1703.4,214.2 L1705.6,206.4 L1707.8,198.6 L1710.0,190.8 L1712.2,183.0 L1710.9,191.3 L1709.5,199.6 L1708.2,207.8 L1706.8,216.1 L1705.4,224.4 L1704.0,232.7 L1702.5,240.9 L1701.1,249.2 L1699.6,257.4 L1698.1,265.7 L1696.6,274.0 L1695.1,282.2 L1693.6,290.5 L1692.0,298.7 L1690.4,306.9 L1688.9,315.2 L1687.3,323.4 L1685.6,331.6 L1684.0,339.9 L1682.4,348.1 L1680.7,356.3 L1679.0,364.5 L1677.3,372.7 L1675.6,380.9 L1673.8,389.2 L1672.1,397.4 L1670.3,405.6 L1668.5,413.8 L1666.7,421.9 L1664.9,430.1 L1663.1,438.3 L1661.2,446.5 L1659.4,454.7 L1657.5,462.9 L1655.6,471.0 L1653.7,479.2 L1651.8,487.4 L1649.8,495.5 L1647.9,503.7 L1645.9,511.8 L1643.9,520.0 L1641.9,528.1 L1639.9,536.3 L1637.8,544.4 L1635.8,552.5 L1633.7,560.7 L1631.6,568.8 L1629.5,576.9 L1627.4,585.0 L1625.2,593.2 L1623.1,601.3 L1620.9,609.4 L1618.8,617.5 L1616.6,625.6 L1614.3,633.7 L1612.1,641.8 L1609.9,649.9 L1607.6,658.0 L1605.3,666.0 L1603.0,674.1 L1600.7,682.2 L1598.4,690.3 L1596.0,698.3 L1593.7,706.4 L1591.3,714.4 L1588.9,722.4 L1586.4,730.5 L1584.0,738.5 L1581.5,746.5 L1579.0,754.5 L1576.4,762.5 L1573.8,770.5 L1571.2,778.5 L1568.6,786.4 L1565.9,794.4 L1563.2,802.3 L1560.5,810.2 L1557.7,818.2 L1554.9,826.1 L1552.1,834.0 L1549.2,841.8 L1546.3,849.7 L1543.3,857.5 L1540.4,865.4 L1537.3,873.2 L1534.2,881.0 L1531.1,888.7 L1528.0,896.5 L1524.8,904.3 L1521.5,912.0 L1518.2,919.7 L1514.9,927.4 L1511.5,935.1 L1508.0,942.7 L1504.5,950.3 L1501.0,957.9 L1497.4,965.5 L1493.7,973.1 L1490.0,980.6 L1486.3,988.2 L1482.5,995.7 L1478.6,1003.1 L1474.7,1010.6 L1470.8,1018.0 L1466.8,1025.4 L1462.7,1032.8 L1458.6,1040.1 L1454.5,1047.4 L1450.3,1054.7 L1446.1,1061.9 L1441.8,1069.1 L1437.4,1076.3 L1433.0,1083.5 L1428.5,1090.5 L1424.0,1097.6 L1419.4,1104.6 L1414.7,1111.5 L1409.9,1118.4 L1405.0,1125.2 L1400.1,1131.9 L1395.0,1138.6 L1389.9,1145.2 L1384.6,1151.7 L1379.3,1158.1 L1373.8,1164.5 L1368.2,1170.7 L1362.5,1176.8 L1356.7,1182.8 L1350.7,1188.6 L1344.5,1194.3 L1338.2,1199.8 L1331.7,1205.1 L1325.1,1210.2 L1318.4,1215.2 L1311.5,1219.9 L1304.5,1224.5 L1297.4,1229.0 L1290.1,1233.2 L1282.8,1237.3 L1275.3,1241.2 L1267.8,1244.9 L1260.2,1248.4 L1252.5,1251.8 L1244.7,1255.0 L1236.9,1258.0 L1229.0,1260.9 L1221.0,1263.7 L1213.0,1266.3 L1205.0,1268.7 L1196.9,1271.0 L1188.8,1273.2 L1180.6,1275.1 L1172.4,1277.0 L1164.2,1278.6 L1156.0,1280.1 L1147.7,1281.5 L1139.4,1282.8 L1131.1,1284.0 L1122.8,1285.1 L1114.5,1286.1 L1106.2,1287.1 L1097.8,1288.0 L1089.5,1288.9 L1081.1,1289.8 L1072.8,1290.6 L1064.5,1291.4 L1056.1,1292.2 L1047.7,1292.9 L1039.4,1293.6 L1031.0,1294.3 L1022.7,1295.0 L1014.3,1295.6 L1005.9,1296.2 L997.6,1296.8 L989.2,1297.3 L980.8,1297.9 L972.5,1298.4 L964.1,1298.9 L955.7,1299.3 L947.3,1299.8 L939.0,1300.2 L930.6,1300.6 L922.2,1301.0 L913.8,1301.4 L905.4,1301.7 L897.0,1302.1 L888.7,1302.4 L880.3,1302.7 L871.9,1303.0 L863.5,1303.2 L855.1,1303.5 L846.7,1303.8 L838.3,1304.0 L829.9,1304.2 L821.6,1304.5 L813.2,1304.7 L804.8,1304.9 L796.4,1305.1 L788.0,1305.3 L779.6,1305.5 L771.2,1305.6 L762.8,1305.8 L754.4,1306.0 L746.1,1306.1 L737.7,1306.3 L729.3,1306.4 L720.9,1306.6 L712.5,1306.7 L704.1,1306.8 L695.7,1306.9 L687.3,1307.1 L678.9,1307.2 L670.6,1307.3 L662.2,1307.4 L653.8,1307.5 L645.4,1307.6 L637.0,1307.7 L628.6,1307.8 L620.2,1307.8 L611.8,1307.9 L603.4,1308.0 L595.1,1308.1 L586.7,1308.1 L578.3,1308.2 L569.9,1308.3 L561.5,1308.3 L553.1,1308.4 L544.7,1308.5 L536.3,1308.5 L527.9,1308.6 L519.6,1308.6 L511.2,1308.7 L502.8,1308.7 L494.4,1308.8 L486.0,1308.8 L477.6,1308.9 L469.2,1308.9 L460.8,1309.0 L452.4,1309.0 L444.1,1309.1 L435.7,1309.1 L427.3,1309.2 L418.9,1309.2 L410.5,1309.3 L402.1,1309.3 L393.7,1309.4 L385.3,1309.4 L376.9,1309.5 L368.6,1309.5 L360.2,1309.6 L351.8,1309.6 L343.4,1309.7 L335.0,1309.8 L326.6,1309.8 L318.2,1309.9 L309.8,1310.0 L301.4,1310.0 L293.0,1310.1 L284.6,1310.2" stroke="#008000" stroke-width="8.8"/>
</g>
<text class="tk" text-anchor="end" transform="translate(242.5 1328.00) scale(1 1.0405)">0</text>
<text class="tk" text-anchor="end" transform="translate(242.5 1171.75) scale(1 1.0405)">50</text>
<text class="tk" text-anchor="end" transform="translate(242.5 1015.50) scale(1 1.0405)">100</text>
<text class="tk" text-anchor="end" transform="translate(242.5 859.25) scale(1 1.0405)">150</text>
<text class="tk" text-anchor="end" transform="translate(242.5 703.00) scale(1 1.0405)">200</text>
<text class="tk" text-anchor="end" transform="translate(242.5 546.75) scale(1 1.0405)">250</text>
<text class="tk" text-anchor="end" transform="translate(242.5 390.50) scale(1 1.0405)">300</text>
<text class="tk" text-anchor="end" transform="translate(242.5 234.25) scale(1 1.0405)">350</text>
<text class="tk" text-anchor="end" transform="translate(242.5 78.00) scale(1 1.0405)">400</text>
<text class="tk" text-anchor="middle" transform="translate(285.15 1417.5) scale(1 1.0405)">0.0</text>
<text class="tk" text-anchor="middle" transform="translate(570.45 1417.5) scale(1 1.0405)">0.2</text>
<text class="tk" text-anchor="middle" transform="translate(855.75 1417.5) scale(1 1.0405)">0.4</text>
<text class="tk" text-anchor="middle" transform="translate(1141.05 1417.5) scale(1 1.0405)">0.6</text>
<text class="tk" text-anchor="middle" transform="translate(1426.35 1417.5) scale(1 1.0405)">0.8</text>
<text class="tk" text-anchor="middle" transform="translate(1711.65 1417.5) scale(1 1.0405)">1.0</text>
<text class="ti" transform="translate(515.8 1514.6) scale(1 1.01)" xml:space="preserve"><tspan class="it">E</tspan> / V <tspan class="it">vs.</tspan> Ag|AgCl|KCl<tspan dy="17.9">(sat.)</tspan></text>
<text class="ti" transform="translate(100.2 797.2) rotate(-90) scale(1 1.04)" xml:space="preserve"><tspan class="it">I</tspan><tspan dx="-2"> / </tspan><tspan class="mu" dx="0.3" style="font-size:82px">µ</tspan><tspan dx="4.4">A</tspan></text>
<line x1="340.6" y1="137.7" x2="487.4" y2="137.7" stroke="#000" stroke-width="9.2" stroke-linecap="round" stroke-dasharray="40.8 53.0"/>
<text class="lg" transform="translate(507.3 160.1) scale(1 1.01)" xml:space="preserve">Control</text>
<line x1="340.4" y1="257.0" x2="487.6" y2="257.0" stroke="#ff0000" stroke-width="8.8" stroke-linecap="round"/>
<text class="lg" transform="translate(507.3 280.0) scale(1 1.01)" xml:space="preserve">2 mmol L<tspan dy="-26.9">-1</tspan></text>
<line x1="340.4" y1="377.0" x2="487.6" y2="377.0" stroke="#0000ff" stroke-width="8.8" stroke-linecap="round"/>
<text class="lg" transform="translate(507.3 398.9) scale(1 1.01)" xml:space="preserve">6 mmol L<tspan dy="-26.9">-1</tspan></text>
<line x1="340.4" y1="496.0" x2="487.6" y2="496.0" stroke="#008000" stroke-width="8.8" stroke-linecap="round"/>
<text class="lg" transform="translate(507.3 518.5) scale(1 1.01)" xml:space="preserve">10 mmol L<tspan dy="-26.9">-1</tspan></text>
</svg></body></html>
